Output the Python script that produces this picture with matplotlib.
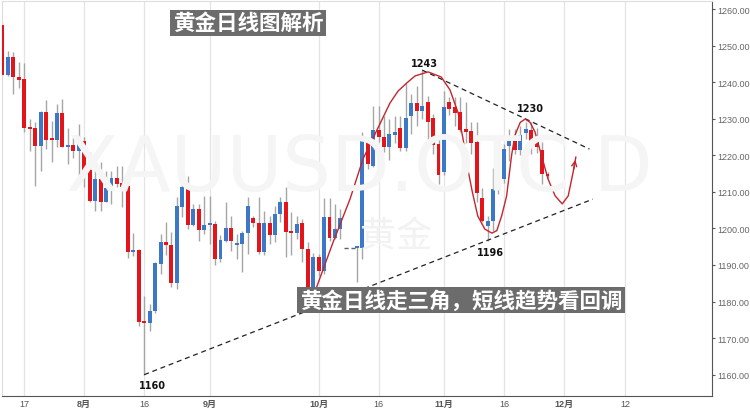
import numpy as np
import matplotlib
matplotlib.use("Agg")
import matplotlib.pyplot as plt

plt.rcParams['font.family'] = ['Liberation Sans', 'Noto Sans CJK SC', 'DejaVu Sans']

# daily XAUUSD candles (index = trading day, nan = no bar)
opens = [1255.6, 1242.0, 1247.0, 1241.5, 1240.9, 1227.8, 1227.5, 1222.6, 1231.8, 1224.6,
         1224.3, 1231.5, 1222.4, 1222.9, 1221.3, 1223.8, 1216.0, 1207.6, 1213.5, 1207.3,
         1210.8, 1213.7, 1212.4, 1211.7, 1193.5, 1194.1, 1174.8, 1174.1, 1177.3, 1190.3,
         1196.2, 1195.5, 1185.1, 1205.8, 1211.2, 1200.9, 1205.3, 1199.6, 1201.0, 1201.2,
         1191.5, 1196.6, 1200.1, 1195.5, 1195.7, 1198.8, 1202.8, 1201.4, 1193.6, 1201.4,
         1198.2, 1203.9, 1207.3, 1199.4, 1198.8, 1201.4, 1194.4, 1182.0, 1192.1, 1188.4,
         1203.0, 1197.3, 1199.8, np.nan, np.nan, 1194.6, 1194.6, 1224.2, 1217.2, 1226.9,
         1224.9, 1222.2, 1225.6, 1227.5, 1222.0, 1230.8, 1234.2, 1232.0, 1234.5, 1230.2,
         1223.1, 1215.3, 1234.5, 1233.3, 1231.8, 1227.2, 1226.7, 1223.5, 1208.3, 1200.6,
         1202.1, 1210.8, 1213.5, 1222.5, 1224.0, 1221.5, 1226.0, 1226.9, 1224.2, 1221.4,
         1214.9]
highs = [1256.5, 1248.6, 1248.2, 1245.6, 1245.2, 1229.9, 1229.1, 1232.2, 1235.1, 1229.5,
         1234.0, 1235.4, 1227.5, 1225.0, 1228.6, 1225.0, 1220.9, 1219.9, 1218.1, 1215.8,
         1215.6, 1217.2, 1217.0, 1211.9, 1198.7, 1194.3, 1181.6, 1179.3, 1190.8, 1198.5,
         1201.7, 1199.0, 1208.5, 1214.2, 1214.2, 1206.7, 1206.7, 1209.0, 1209.0, 1202.1,
         1198.2, 1207.1, 1203.5, 1198.5, 1199.4, 1208.5, 1203.3, 1208.5, 1204.8, 1203.5,
         1206.2, 1208.5, 1211.2, 1204.4, 1203.5, 1202.6, 1196.2, 1193.2, 1193.0, 1208.2,
         1208.2, 1206.7, 1205.3, np.nan, np.nan, 1195.0, 1226.3, 1224.9, 1233.6, 1233.6,
         1230.8, 1229.9, 1230.8, 1230.8, 1239.7, 1236.8, 1239.0, 1243.3, 1236.3, 1231.3,
         1224.5, 1237.5, 1236.0, 1235.9, 1235.9, 1234.5, 1229.0, 1229.0, 1211.0, 1203.5,
         1216.4, 1216.2, 1223.0, 1227.2, 1227.2, 1228.0, 1229.0, 1229.0, 1227.5, 1223.5,
         1215.5]
lows = [1241.5, 1241.6, 1236.8, 1238.3, 1226.3, 1221.3, 1211.7, 1215.8, 1221.7, 1218.2,
        1222.3, 1222.2, 1217.6, 1219.3, 1214.4, 1211.3, 1207.3, 1204.8, 1204.8, 1207.1,
        1206.7, 1211.2, 1205.8, 1191.8, 1192.4, 1173.4, 1160.0, 1172.0, 1177.0, 1187.5,
        1192.7, 1183.9, 1183.4, 1203.0, 1199.8, 1200.7, 1196.6, 1198.5, 1195.7, 1190.0,
        1190.7, 1196.2, 1193.9, 1191.6, 1188.0, 1193.0, 1200.3, 1193.0, 1192.8, 1195.7,
        1196.2, 1201.7, 1192.1, 1192.6, 1197.1, 1190.7, 1181.0, 1181.5, 1187.0, 1187.5,
        1196.5, 1197.1, 1197.1, np.nan, np.nan, 1185.4, 1191.6, 1216.2, 1216.7, 1223.5,
        1220.8, 1218.7, 1223.3, 1221.3, 1221.3, 1225.8, 1228.1, 1229.9, 1224.5, 1220.4,
        1212.1, 1214.7, 1231.0, 1228.1, 1226.3, 1223.4, 1220.4, 1207.1, 1201.7, 1196.5,
        1199.4, 1209.5, 1212.5, 1218.5, 1220.4, 1220.0, 1224.5, 1220.4, 1220.5, 1212.1,
        1213.8]
closes = [1242.0, 1247.0, 1241.3, 1240.7, 1227.5, 1227.2, 1222.6, 1231.8, 1224.3, 1224.3,
          1231.5, 1222.4, 1222.9, 1221.3, 1223.8, 1215.8, 1207.6, 1213.5, 1207.3, 1211.0,
          1213.7, 1212.1, 1211.4, 1193.5, 1194.1, 1174.5, 1174.1, 1177.3, 1190.5, 1196.2,
          1195.5, 1185.1, 1206.0, 1211.2, 1200.8, 1205.3, 1199.6, 1201.0, 1201.4, 1191.5,
          1196.8, 1200.1, 1196.6, 1195.9, 1198.8, 1206.0, 1201.4, 1193.6, 1201.4, 1198.2,
          1203.9, 1207.1, 1199.1, 1198.8, 1201.2, 1194.4, 1182.0, 1192.1, 1188.4, 1203.0,
          1197.3, 1199.8, 1202.8, np.nan, np.nan, 1195.0, 1224.3, 1217.6, 1226.9, 1224.9,
          1222.2, 1225.8, 1226.4, 1222.0, 1230.2, 1234.2, 1232.2, 1233.6, 1229.2, 1222.9,
          1214.7, 1233.3, 1232.7, 1231.5, 1226.9, 1226.4, 1223.3, 1209.7, 1202.1, 1202.1,
          1210.8, 1213.3, 1221.7, 1224.0, 1221.5, 1225.6, 1227.2, 1223.1, 1222.2, 1214.9,
          1214.3]

gap_level = 1194.6          # flat dashed stretch before the Oct 11 jump
gap_span = [62.6, 65.0]

tick_pos = [4, 15, 26, 38, 58, 69, 81, 92, 103, 114.2]
tick_labels = ['17', '8月', '16', '9月', '10月', '16', '11月', '16', '12月', '12']
price_ticks = [1160, 1170, 1180, 1190, 1200, 1210, 1220, 1230, 1240, 1250, 1260]

# trend lines (index, price)
lower_line_x = [26, 108.3]
lower_line_y = [1160.0, 1208.0]
upper_line_x = [77, 107.7]
upper_line_y = [1243.3, 1221.7]

# hand drawn path
path_x = [57.65, 60.6, 63.76, 66.15, 68.9, 71.1, 72.6, 74.2, 75.7, 78.1, 80.5, 82.1,
          83.6, 84.5, 85.2, 86.2, 87.2, 88.5, 89.8, 90.7, 91.6, 92.5, 93.4, 94.0,
          95.0, 95.9, 96.8, 97.7, 98.9, 100.1, 101.4, 102.7, 103.8, 104.7, 105.2]
path_y = [1184.0, 1196.0, 1208.0, 1219.0, 1227.5, 1234.3, 1237.6, 1239.8, 1241.7, 1242.8,
          1241.4, 1237.9, 1231.6, 1224.5, 1217.6, 1210.0, 1203.4, 1199.8, 1198.7, 1199.4,
          1203.5, 1208.9, 1219.9, 1225.4, 1229.0, 1229.9, 1229.0, 1226.4, 1219.9, 1213.5,
          1208.9, 1206.7, 1208.9, 1215.4, 1219.5]

marks = ['1243', '1230', '1196', '1160']
mark_x = [77.5, 96.8, 89.5, 27.5]
mark_y = [1243.8, 1231.6, 1194.8, 1158.6]
mark_va = ['bottom', 'bottom', 'top', 'top']

RED = '#e3151b'
BLUE = '#3b78c8'

fig = plt.figure(figsize=(7.5, 4.1), dpi=100)
ax = fig.add_axes([2 / 750, 13 / 410, 710 / 750, 395 / 410])

# watermarks
fig.text(0.479, 0.585, 'XAUUSD.OTC D', fontsize=55, color='#f5f5f5',
         ha='center', va='center', family='DejaVu Sans', zorder=0)
fig.text(0.528, 0.422, '黄金', fontsize=26, color='#f2f2f2',
         ha='center', va='center', family='Noto Sans CJK SC', zorder=0)

ax.patch.set_alpha(0)
idx = np.arange(len(opens))
o = np.array(opens)
h = np.array(highs)
l = np.array(lows)
c = np.array(closes)
ok = ~np.isnan(o)
up = c >= o

ax.vlines(idx[ok], l[ok], h[ok], color='#a6a6a6', lw=1, zorder=2)
body_lo = np.minimum(o, c)
body_h = np.maximum(np.abs(c - o), 0.5)
colors = [BLUE if u else RED for u in up]
ax.bar(idx[ok], body_h[ok], bottom=body_lo[ok], width=0.72,
       color=np.array(colors)[ok], lw=0, zorder=3)
ax.plot(gap_span, [gap_level, gap_level], ls=(0, (3, 2)), color='#52667f', lw=1, zorder=3)

ax.plot(lower_line_x, lower_line_y, color='#222222', lw=0.9, ls=(0, (4, 3)), zorder=4)
ax.plot(upper_line_x, upper_line_y, color='#222222', lw=0.9, ls=(0, (4, 3)), zorder=4)

ax.plot(path_x, path_y, color='#c3262d', lw=1.0, zorder=5)
ax.annotate('', xy=(path_x[-1], path_y[-1]), xytext=(path_x[-2], path_y[-2]),
            arrowprops=dict(arrowstyle='->', color='#c3262d', lw=1.0, mutation_scale=9),
            zorder=5)

for t, x, y, va in zip(marks, mark_x, mark_y, mark_va):
    ax.text(x, y, t, fontsize=7, fontweight='bold', family='DejaVu Sans',
            ha='center', va=va, color='#111111', zorder=6)

ax.set_xlim(-0.09, 130.18)
ax.set_ylim(1154.17, 1262.19)

ax.set_xticks(tick_pos)
ax.set_xticklabels(tick_labels)
for lab in ax.get_xticklabels():
    if '月' in lab.get_text():
        lab.set_fontweight('bold')
ax.tick_params(axis='x', length=0, pad=2, labelsize=6.5, labelcolor='#555555')
ax.grid(axis='x', color='#e4e4e4', lw=0.9, zorder=0)

ax.yaxis.tick_right()
ax.set_yticks(price_ticks)
ax.set_yticklabels([f'{v:.2f}' for v in price_ticks])
ax.tick_params(axis='y', length=2.5, width=0.8, color='#555555', pad=1,
               labelsize=6.5, labelcolor='#666666')

for side in ['top', 'left']:
    ax.spines[side].set_color('#dddddd')
ax.spines['bottom'].set_color('#555555')
ax.spines['right'].set_color('#555555')

box = dict(facecolor='#6c6c6c', edgecolor='none', boxstyle='square,pad=0.12')
fig.text(0.331, 0.942, '黄金日线图解析', fontsize=15.5, fontweight='bold', color='white',
         family='Noto Sans CJK SC', ha='center', va='center', bbox=box, zorder=10)
fig.text(0.615, 0.266, '黄金日线走三角，短线趋势看回调', fontsize=15.5, fontweight='bold',
         color='white', family='Noto Sans CJK SC', ha='center', va='center', bbox=box, zorder=10)

fig.savefig('out.png', dpi=100)
